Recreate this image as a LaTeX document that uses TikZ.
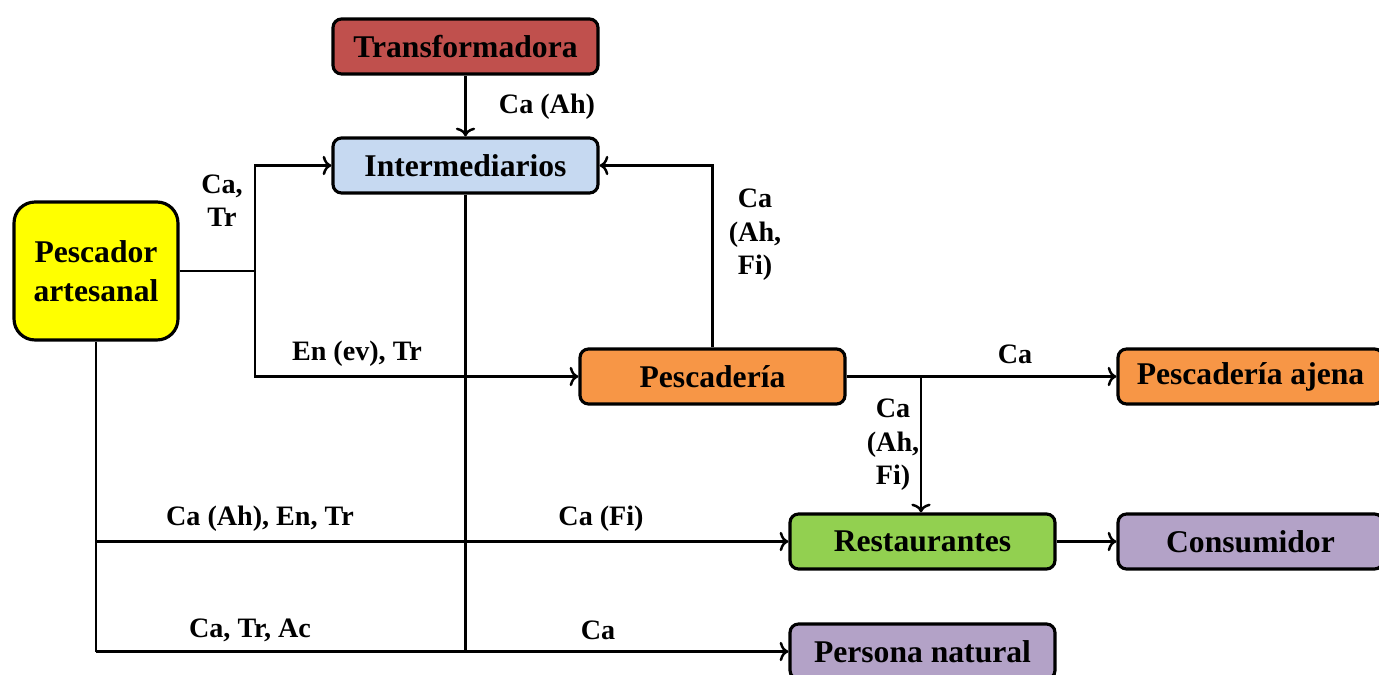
\documentclass[tikz,border=0pt]{standalone}
\usepackage{fontspec}
\setmainfont{Liberation Serif}
\usetikzlibrary{arrows.meta}
\definecolor{cRed}{HTML}{C0504D}
\definecolor{cBlue}{HTML}{C6D9F1}
\definecolor{cYellow}{HTML}{FFFF00}
\definecolor{cOrange}{HTML}{F79646}
\definecolor{cGreen}{HTML}{92D050}
\definecolor{cPurple}{HTML}{B3A2C7}
\tikzset{
  box/.style={draw=black, line width=1.8pt, rounded corners=0.17cm, minimum width=5.3cm, minimum height=1.1cm, inner sep=0pt, font=\fontsize{18}{22}\selectfont\bfseries, align=center},
  bigbox/.style={box, rounded corners=0.42cm, minimum width=3.28cm, minimum height=2.76cm},
  conn/.style={line width=1.4pt, draw=black},
  arr/.style={conn, -{To[length=5pt,width=11pt]}},
  lbl/.style={font=\fontsize{16}{19}\selectfont\bfseries, align=center, inner sep=0pt}
}
\begin{document}
\begin{tikzpicture}[x=0.02cm, y=-0.02cm]
\useasboundingbox (0,0) rectangle (1379,675);
\node[box, fill=cRed] (tr) at (465.5,46.5) {Transformadora};
\node[box, fill=cBlue] (in) at (465.5,165.5) {Intermediarios};
\node[bigbox, fill=cYellow] (pa) at (96,271) {Pescador\\artesanal};
\node[box, fill=cOrange] (pe) at (712.5,376.5) {Pescadería};
\node[box, fill=cOrange] (pj) at (1250.5,376.5) {Pescadería ajena};
\node[box, fill=cGreen] (re) at (922.5,541.5) {Restaurantes};
\node[box, fill=cPurple] (co) at (1250.5,541.5) {Consumidor};
\node[box, fill=cPurple] (pn) at (922.5,651.5) {Persona natural};

\coordinate (j1) at (255,271);
\coordinate (j2) at (921,376.5);
\coordinate (j3) at (96,541.5);
\coordinate (j4) at (96,651.5);
\coordinate (j5) at (465.5,651.5);

% Transformadora -> Intermediarios
\draw[arr] (tr.south) -- (in.north);
% Pescador -> Intermediarios and Pescaderia
\draw[conn] (pa.east |- j1) -- (j1);
\draw[arr] (j1) |- (in.west);
\draw[arr] (j1) |- (pe.west);
% Pescaderia -> Intermediarios
\draw[arr] (pe.north) |- (in.east);
% Intermediarios vertical
\draw[conn] (in.south) -- (j5);
% Pescaderia -> ajena, restaurantes
\draw[arr] (pe.east) -- (pj.west);
\draw[arr] (j2) -- (re.north -| j2);
% Pescador down
\draw[conn] (pa.south) -- (j4);
\draw[arr] (j3) -- (re.west);
\draw[arr] (j4) -- (pn.west);
% Restaurantes -> Consumidor
\draw[arr] (re.east) -- (co.west);

% labels
\node[lbl] (l1) at (547,107) {Ca (Ah)};
\node[lbl] (l2) at (222,201) {Ca,\\Tr};
\node[lbl] (l3) at (357,354) {En (ev), Tr};
\node[lbl] (l4) at (755,235) {Ca\\(Ah,\\Fi)};
\node[lbl] (l5) at (1015,354) {Ca};
\node[lbl] (l6) at (893,445) {Ca\\(Ah,\\Fi)};
\node[lbl] (l7) at (260,519) {Ca (Ah), En, Tr};
\node[lbl] (l8) at (601,519) {Ca (Fi)};
\node[lbl] (l9) at (250,630) {Ca, Tr, Ac};
\node[lbl] (l10) at (598,630) {Ca};
\end{tikzpicture}
\end{document}
